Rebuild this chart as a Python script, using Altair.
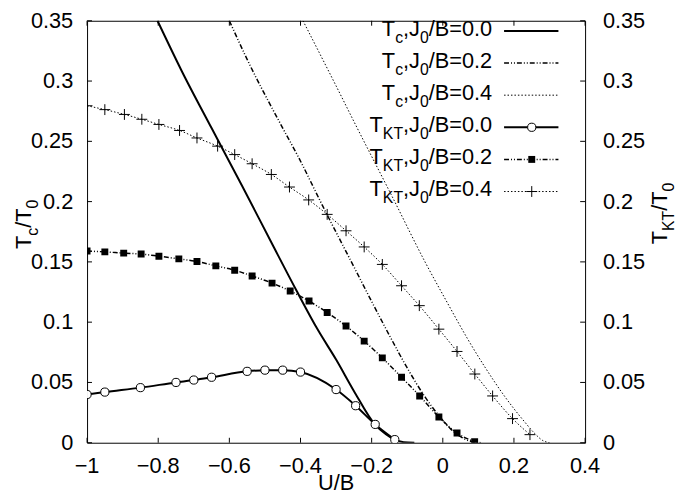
import altair as alt
import pandas as pd

FONT = "Liberation Sans"

# ---------------- data ----------------
tc00_x = [-0.802, -0.735, -0.65, -0.564, -0.48, -0.411, -0.35, -0.30, -0.25, -0.191, -0.16, -0.135, -0.11, -0.08]
tc00_y = [0.350, 0.309, 0.261, 0.213, 0.165, 0.126, 0.093, 0.069, 0.043, 0.0152, 0.007, 0.0025, 0.0005, 0.0]

tc02_x = [-0.600, -0.55, -0.45, -0.406, -0.337, -0.25, -0.198, -0.15, -0.10, -0.05, -0.011, 0.02, 0.05, 0.08, 0.11]
tc02_y = [0.350, 0.318, 0.261, 0.237, 0.196, 0.146, 0.116, 0.089, 0.062, 0.038, 0.0225, 0.012, 0.005, 0.001, 0.0]

tc04_x = [-0.393, -0.3, -0.244, -0.142, -0.05, 0.012, 0.07, 0.12, 0.173, 0.228, 0.259, 0.28, 0.30]
tc04_y = [0.350, 0.296, 0.263, 0.204, 0.150, 0.1165, 0.086, 0.062, 0.0388, 0.018, 0.0075, 0.002, 0.0]

tkt00_x = [-1.0, -0.95, -0.85, -0.75, -0.70, -0.65, -0.55, -0.50, -0.45, -0.40, -0.30, -0.245, -0.19, -0.135]
tkt00_y = [0.040, 0.042, 0.0457, 0.050, 0.052, 0.0543, 0.0592, 0.0602, 0.0602, 0.0586, 0.0441, 0.0307, 0.0152, 0.0026]

tkt02_x = [-1.0, -0.95, -0.897, -0.848, -0.798, -0.742, -0.691, -0.638, -0.585, -0.536, -0.480,
           -0.429, -0.376, -0.325, -0.272, -0.221, -0.170, -0.116, -0.065, -0.011, 0.040, 0.0895]
tkt02_y = [0.159, 0.1583, 0.1573, 0.1565, 0.1547, 0.1525, 0.1503, 0.1467, 0.1431, 0.1383, 0.1324,
           0.1258, 0.1175, 0.1080, 0.0968, 0.0843, 0.0704, 0.0543, 0.0388, 0.0214, 0.008, 0.0008]

tkt04_x = [-1.0, -0.95, -0.895, -0.846, -0.798, -0.740, -0.691, -0.633, -0.585, -0.536, -0.482, -0.431,
           -0.377, -0.325, -0.272, -0.221, -0.170, -0.116, -0.066, -0.011, 0.040, 0.090, 0.140, 0.196, 0.245]
tkt04_y = [0.2795, 0.2763, 0.2723, 0.2683, 0.264, 0.259, 0.2528, 0.246, 0.239, 0.2314, 0.2225, 0.2121,
           0.2014, 0.1894, 0.1758, 0.1624, 0.1479, 0.1302, 0.1137, 0.0942, 0.0757, 0.057, 0.0388, 0.020, 0.0067]

x_ticks = [-1.0, -0.8, -0.6, -0.4, -0.2, 0.0, 0.2, 0.4]
y_ticks = [0.0, 0.05, 0.1, 0.15, 0.2, 0.25, 0.3, 0.35]

# legend labels as (text, is_subscript) pieces
legend_labels = [
    [("T", 0), ("c", 1), (",J", 0), ("0", 1), ("/B=0.0", 0)],
    [("T", 0), ("c", 1), (",J", 0), ("0", 1), ("/B=0.2", 0)],
    [("T", 0), ("c", 1), (",J", 0), ("0", 1), ("/B=0.4", 0)],
    [("T", 0), ("KT", 1), (",J", 0), ("0", 1), ("/B=0.0", 0)],
    [("T", 0), ("KT", 1), (",J", 0), ("0", 1), ("/B=0.2", 0)],
    [("T", 0), ("KT", 1), (",J", 0), ("0", 1), ("/B=0.4", 0)],
]
left_title = [("T", 0), ("c", 1), ("/T", 0), ("0", 1)]
right_title = [("T", 0), ("KT", 1), ("/T", 0), ("0", 1)]
x_title = "U/B"

# ---------------- styles ----------------
W, H = 504, 427
TOP_PAD = 10
FS, FS_SUB, SUB_DY = 22, 16, 7
DASHDOT = [5, 2, 1, 2, 1, 2]
DOT = [1.5, 2]
PLUS = "M-1,0L1,0M0,-1L0,1"

xs = alt.Scale(domain=[-1, 0.4], nice=False, zero=False)
ys = alt.Scale(domain=[0, 0.35], nice=False, zero=False)

ARIAL = {'/': 278, 'B': 667, '=': 584, '0': 556, '.': 278, '2': 556, '4': 556, ',': 278,
         'J': 500, 'T': 611, 'c': 500, 'K': 667, 'U': 722}


def tw(s, size):
    return sum(ARIAL.get(ch, 556) for ch in s) * size / 1000.0


def series_df(xv, yv):
    return pd.DataFrame({"x": xv, "y": yv})


def line_layer(xv, yv, dash, width):
    kw = dict(color="black", strokeWidth=width, interpolate="monotone", clip=True)
    if dash:
        kw["strokeDash"] = dash
    return alt.Chart(series_df(xv, yv)).mark_line(**kw).encode(
        x=alt.X("x:Q", scale=xs, axis=None), y=alt.Y("y:Q", scale=ys, axis=None))


def point_layer(xv, yv, shape, size, filled):
    kw = dict(shape=shape, size=size, color="black", strokeWidth=1, opacity=1, clip=True)
    if filled:
        kw.update(filled=True, fill="black")
    else:
        kw.update(filled=False, fill="white", fillOpacity=1, stroke="black")
    return alt.Chart(series_df(xv, yv)).mark_point(**kw).encode(
        x=alt.X("x:Q", scale=xs, axis=None), y=alt.Y("y:Q", scale=ys, axis=None))


layers = []
df_xt = pd.DataFrame({"v": x_ticks})
df_yt = pd.DataFrame({"v": y_ticks})

# tick labels (bottom, left, right) through the shared scales
layers.append(alt.Chart(df_xt).mark_text(align="center", baseline="alphabetic", font=FONT, fontSize=FS,
                                         color="black").encode(
    x=alt.X("v:Q", scale=xs, axis=None), y=alt.value(H + 31), text=alt.Text("v:Q", format=".1~f")))
layers.append(alt.Chart(df_yt).mark_text(align="right", baseline="middle", font=FONT, fontSize=FS,
                                         color="black").encode(
    y=alt.Y("v:Q", scale=ys, axis=None), x=alt.value(-14), text=alt.Text("v:Q", format=".2~f")))
layers.append(alt.Chart(df_yt).mark_text(align="left", baseline="middle", font=FONT, fontSize=FS,
                                         color="black").encode(
    y=alt.Y("v:Q", scale=ys, axis=None), x=alt.value(W + 18), text=alt.Text("v:Q", format=".2~f")))

# inward ticks on all four sides
TL = 5
layers.append(alt.Chart(df_xt).mark_rule(color="black", strokeWidth=1).encode(
    x=alt.X("v:Q", scale=xs, axis=None), y=alt.value(H), y2=alt.value(H - TL)))
layers.append(alt.Chart(df_xt).mark_rule(color="black", strokeWidth=1).encode(
    x=alt.X("v:Q", scale=xs, axis=None), y=alt.value(0), y2=alt.value(TL)))
layers.append(alt.Chart(df_yt).mark_rule(color="black", strokeWidth=1).encode(
    y=alt.Y("v:Q", scale=ys, axis=None), x=alt.value(0), x2=alt.value(TL)))
layers.append(alt.Chart(df_yt).mark_rule(color="black", strokeWidth=1).encode(
    y=alt.Y("v:Q", scale=ys, axis=None), x=alt.value(W - TL), x2=alt.value(W)))

# data series
layers.append(line_layer(tc00_x, tc00_y, None, 2))
layers.append(line_layer(tc02_x, tc02_y, DASHDOT, 1.5))
layers.append(line_layer(tc04_x, tc04_y, DOT, 1))
layers.append(line_layer(tkt00_x, tkt00_y, None, 2))
layers.append(line_layer(tkt02_x, tkt02_y, DASHDOT, 1.5))
layers.append(line_layer(tkt04_x, tkt04_y, DOT, 1))
layers.append(point_layer(tkt00_x, tkt00_y, "circle", 69, False))
layers.append(point_layer(tkt02_x, tkt02_y, "square", 49, True))
layers.append(point_layer(tkt04_x, tkt04_y, PLUS, 121, False))

# ---------------- legend ----------------
LEG_R = 410
LEG_Y0, LEG_DY = 28.3 - 8 - TOP_PAD, 32.5
SAMPLE_X1, SAMPLE_X2, MARK_X = 422, 477, 450
leg_styles = [
    (None, 2, None, 0, False),
    (DASHDOT, 1.5, None, 0, False),
    (DOT, 1, None, 0, False),
    (None, 2, "circle", 69, False),
    (DASHDOT, 1.5, "square", 49, True),
    (DOT, 1, PLUS, 121, False),
]

text_rows = []
for i, pieces in enumerate(legend_labels):
    ly = LEG_Y0 + i * LEG_DY
    base = ly + 5
    cur = LEG_R
    for txt, sub in reversed(pieces):
        size = FS_SUB if sub else FS
        text_rows.append({"px": cur, "py": base + (SUB_DY if sub else 0), "t": txt, "fs": size})
        cur -= tw(txt, size)
    dash, sw, shape, msize, filled = leg_styles[i]
    kw = dict(color="black", strokeWidth=sw)
    if dash:
        kw["strokeDash"] = dash
    layers.append(alt.Chart(pd.DataFrame({"k": [i]})).mark_rule(**kw).encode(
        x=alt.value(SAMPLE_X1), x2=alt.value(SAMPLE_X2), y=alt.value(ly)))
    if shape:
        pk = dict(shape=shape, size=msize, color="black", strokeWidth=1, opacity=1)
        if filled:
            pk.update(filled=True, fill="black")
        else:
            pk.update(filled=False, fill="white", fillOpacity=1, stroke="black")
        layers.append(alt.Chart(pd.DataFrame({"k": [i]})).mark_point(**pk).encode(
            x=alt.value(MARK_X), y=alt.value(ly)))

df_leg = pd.DataFrame(text_rows)
for size in (FS, FS_SUB):
    sub = df_leg[df_leg.fs == size]
    layers.append(alt.Chart(sub).mark_text(align="right", baseline="alphabetic", font=FONT, fontSize=size,
                                           color="black").encode(
        x=alt.X("px:Q", scale=None), y=alt.Y("py:Q", scale=None), text="t:N"))


# ---------------- rotated axis titles ----------------
def rotated_title(pieces, base_x, center_y):
    total = sum(tw(t, FS_SUB if s else FS) for t, s in pieces)
    y = center_y + total / 2
    rows = []
    for t, s in pieces:
        size = FS_SUB if s else FS
        rows.append({"px": base_x + (SUB_DY if s else 0), "py": y, "t": t, "fs": size})
        y -= tw(t, size)
    return rows


title_rows = rotated_title(left_title, -57, 224 - 8 - TOP_PAD) + rotated_title(right_title, W + 83, 213 - 8 - TOP_PAD)
df_tt = pd.DataFrame(title_rows)
for size in (FS, FS_SUB):
    sub = df_tt[df_tt.fs == size]
    layers.append(alt.Chart(sub).mark_text(align="left", baseline="alphabetic", angle=270, font=FONT,
                                           fontSize=size, color="black").encode(
        x=alt.X("px:Q", scale=None), y=alt.Y("py:Q", scale=None), text="t:N"))

layers.append(alt.Chart(pd.DataFrame({"t": [x_title]})).mark_text(
    align="center", baseline="alphabetic", font=FONT, fontSize=FS, color="black").encode(
    x=alt.value(W / 2), y=alt.value(H + 48), text="t:N"))

chart = alt.layer(*layers).properties(
    width=W, height=H,
    padding={"left": 80, "top": TOP_PAD, "right": 93, "bottom": 52},
    autosize=alt.AutoSizeParams(type="none"),
    background="white",
).configure_view(stroke="black", strokeWidth=1)

chart.save("out.html", embed_options={"renderer": "svg", "actions": False})
